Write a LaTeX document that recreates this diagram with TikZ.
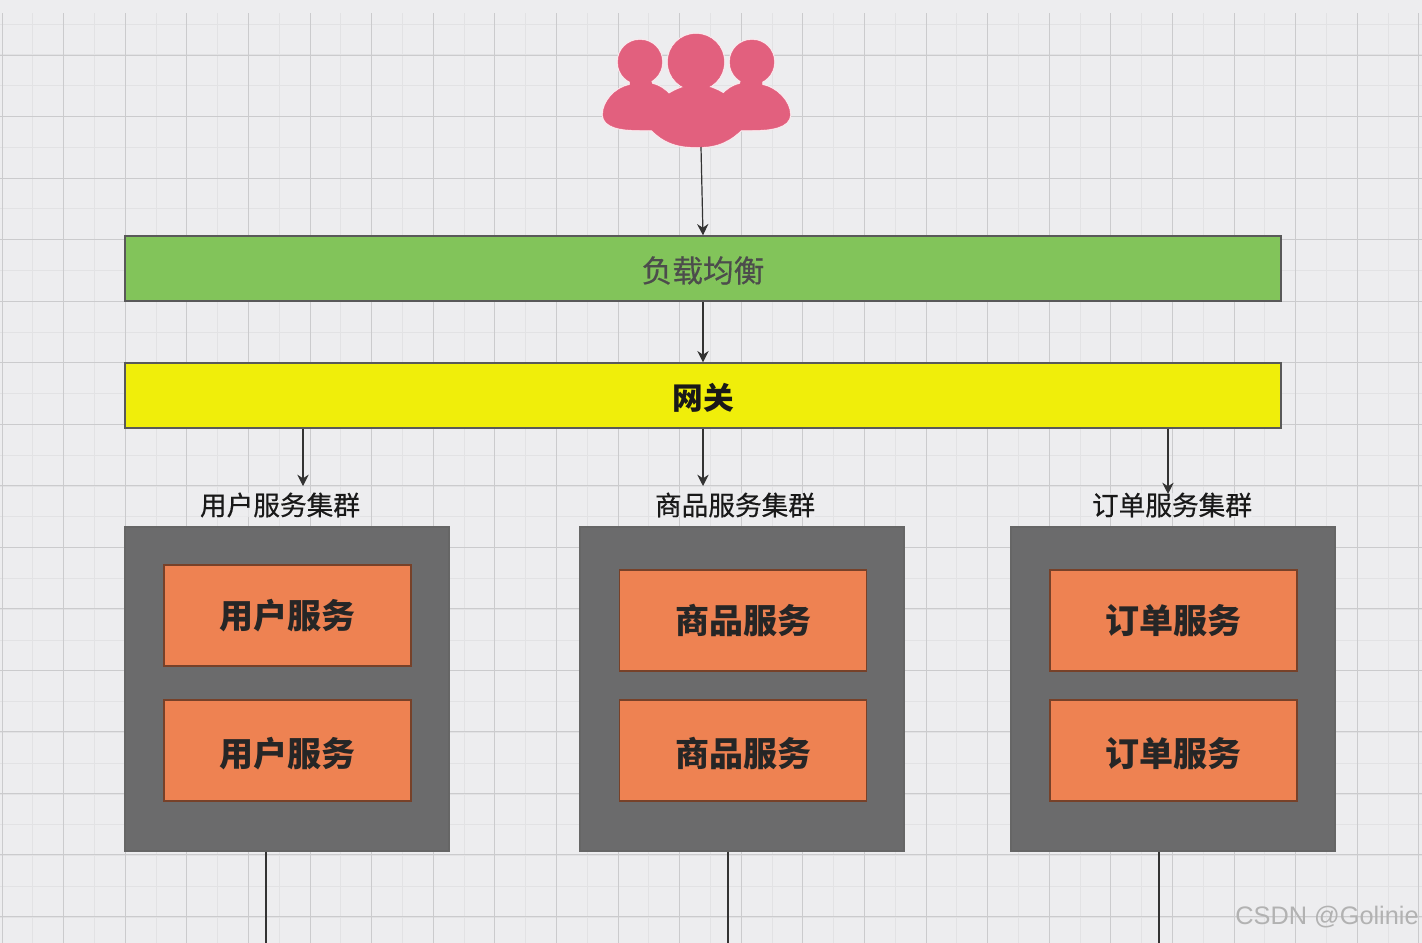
\documentclass[tikz,border=0pt]{standalone}
\usepackage{fontspec}
\newfontfamily\cjk{Noto Sans CJK SC}
\newfontfamily\cjkmid[FakeBold=0.5]{Noto Sans CJK SC}
\newfontfamily\markfont{Liberation Sans}
\definecolor{bggrey}{RGB}{237,237,239}
\definecolor{majorgrid}{RGB}{203,203,205}
\definecolor{minorgrid}{RGB}{226,226,228}
\definecolor{lbgreen}{RGB}{130,196,90}
\definecolor{gwyellow}{RGB}{240,238,10}
\definecolor{clgrey}{RGB}{107,107,108}
\definecolor{svorange}{RGB}{238,130,82}
\definecolor{userpink}{RGB}{226,96,126}
\usetikzlibrary{arrows.meta}

\begin{document}
\begin{tikzpicture}[
  x=0.75pt, y=-0.75pt,
  barbox/.style={rectangle, draw=black!65, line width=1pt,
                 minimum width=867pt, minimum height=48.75pt,
                 text height=23.2pt, text depth=2.8pt,
                 font=\cjkmid\fontsize{23}{23}\selectfont, text=black!70},
  clbox/.style={rectangle, draw=black!60, line width=0.8pt, fill=clgrey,
                minimum width=243pt, minimum height=243pt},
  svbox/.style={rectangle, draw=black!50!svorange, line width=1pt, fill=svorange,
                minimum width=185.25pt, minimum height=75.75pt,
                font=\cjk\bfseries\fontsize{25.5}{25.5}\selectfont, text=black!85},
  svlow/.style={svbox, text height=27pt, text depth=3.1pt},
  cltitle/.style={font=\cjkmid\fontsize{20}{20}\selectfont, text=black!90, inner sep=0pt,
                  fill=bggrey, fill opacity=0.7, text opacity=1},
  farr/.style={-{Stealth[length=8.5pt,width=8.5pt]}, line width=0.9pt, draw=black!80},
  pline/.style={line width=0.9pt, draw=black!80},
  userhalo/.style={draw=white!85!userpink, fill=white!85!userpink, line width=2pt},
  userfill/.style={fill=userpink, draw=userpink, line width=0.3pt}
]
% Paper and grid
\fill[bggrey] (0,0) rectangle (1422,943);
\useasboundingbox (0,0) rectangle (1422,943);
\foreach \i in {0,...,45} {
  \draw[minorgrid, line width=0.6pt] ({32.8+30.8*\i},13) -- ({32.8+30.8*\i},943);
}
\foreach \i in {0,...,30} {
  \draw[minorgrid, line width=0.6pt] (0,{24+30.8*\i}) -- (1422,{24+30.8*\i});
}
\foreach \i in {0,...,23} {
  \draw[majorgrid, line width=0.75pt] ({2+61.6*\i},13) -- ({2+61.6*\i},943);
}
\foreach \i in {0,...,14} {
  \draw[majorgrid, line width=0.75pt] (0,{55+61.5*\i}) -- (1422,{55+61.5*\i});
}

% Users
\foreach \lay in {userhalo,userfill} {
  \path[\lay] (640,62) circle[radius=22];
  \path[\lay] (752,62) circle[radius=22];
  \path[\lay] (696,62) circle[radius=28];
  \path[\lay] (630,78) -- (650,78) -- (652,84) .. controls (660,86) and (664,89) .. (670,95)
    -- (670,130) -- (640,130) .. controls (620,130) and (604,127) .. (603,115)
    .. controls (603,102) and (615,88) .. (630,85) -- cycle;
  \path[\lay] (762,78) -- (742,78) -- (740,84) .. controls (732,86) and (728,89) .. (722,95)
    -- (722,130) -- (752,130) .. controls (772,130) and (789,127) .. (790,115)
    .. controls (790,102) and (777,88) .. (762,85) -- cycle;
  \path[\lay] (684,75) -- (709,75) -- (709,87) .. controls (728,93) and (742,106) .. (743,128)
    .. controls (730,141) and (718,147) .. (697,147) .. controls (675,147) and (662,141) .. (650,128)
    .. controls (651,106) and (665,93) .. (684,87) -- cycle;
}
\coordinate (users) at (701,147);

% Bars
\node[barbox, fill=lbgreen]  (lb) at (703,268.5) {负载均衡};
\node[barbox, fill=gwyellow, font=\cjk\bfseries\fontsize{23}{23}\selectfont, text=black!90] (gw) at (703,395.5) {网关};

% Clusters
\node[clbox] (usercl)  at (287,689) {};
\node[clbox] (goodscl) at (742,689) {};
\node[clbox] (ordercl) at (1173,689) {};

% Cluster titles
\node[cltitle] (usertitle)  at (280,505)  {用户服务集群};
\node[cltitle] (goodstitle) at (735,505)  {商品服务集群};
\node[cltitle] (ordertitle) at (1172,505) {订单服务集群};

% Services
\node[svbox] (user1)  at (287.5,615.5) {用户服务};
\node[svlow] (user2)  at (287.5,750.5) {用户服务};
\node[svbox] (goods1) at (743,620.5)   {商品服务};
\node[svlow] (goods2) at (743,750.5)   {商品服务};
\node[svbox] (order1) at (1173.5,620.5) {订单服务};
\node[svlow] (order2) at (1173.5,750.5) {订单服务};

% Arrows
\coordinate (userin)  at (303,486);
\coordinate (goodsin) at (703,486);
\coordinate (orderin) at (1168,494);
\draw[farr] (users) -- (lb.north);
\draw[farr] (lb.south) -- (gw.north);
\draw[farr] (gw.south -| userin)  -- (userin);
\draw[farr] (gw.south -| goodsin) -- (goodsin);
\draw[farr] (gw.south -| orderin) -- (orderin);

% Lines leaving the clusters
\coordinate (userout)  at (266,943);
\coordinate (goodsout) at (728,943);
\coordinate (orderout) at (1159,943);
\draw[pline] (usercl.south -| userout)   -- (userout);
\draw[pline] (goodscl.south -| goodsout) -- (goodsout);
\draw[pline] (ordercl.south -| orderout) -- (orderout);

% Watermark
\node[font=\markfont\fontsize{19}{19}\selectfont, text=black!30, inner sep=0pt] (mark) at (1327,917) {CSDN @Golinie};
\end{tikzpicture}
\end{document}
